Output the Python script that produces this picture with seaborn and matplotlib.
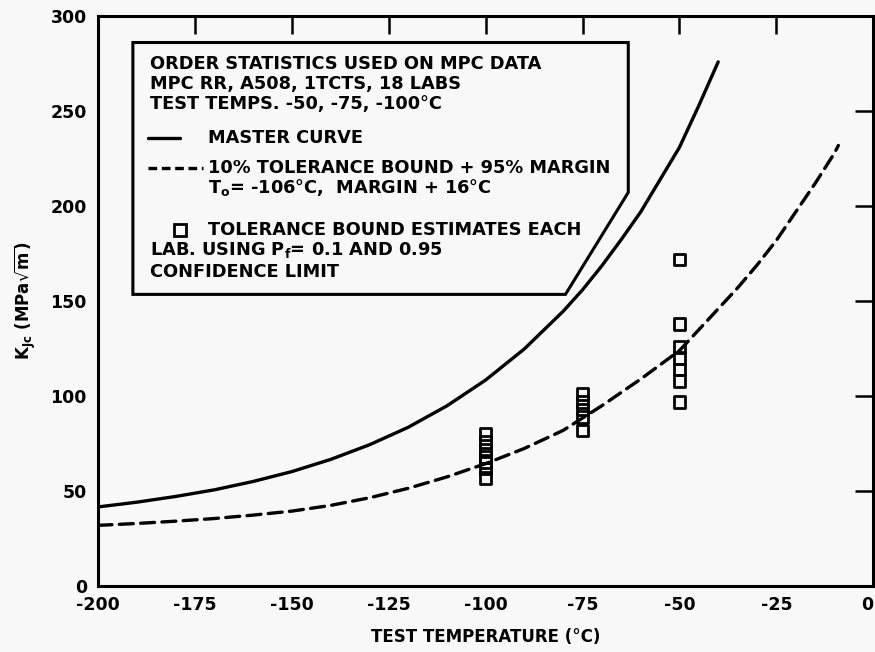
import matplotlib
matplotlib.use("Agg")
import matplotlib.pyplot as plt
import seaborn as sns
import pandas as pd
from matplotlib.patches import Polygon
from matplotlib.lines import Line2D

# ---- data ----
master_T = [-200, -190, -180, -170, -160, -150, -140, -130, -120, -110,
            -100, -90, -80, -75, -70, -65, -60, -55, -50, -45, -40]
master_K = [41.7, 44.2, 47.2, 50.7, 55.1, 60.3, 66.7, 74.4, 83.6, 94.9,
            108.5, 124.9, 144.7, 156.0, 168.7, 182.5, 197.0, 214.0, 231.0, 253.0, 276.0]

bound_T = [-200, -190, -180, -170, -160, -150, -140, -130, -120, -110,
           -100, -90, -80, -70, -60, -50, -45, -40, -35, -30, -25, -20, -15, -10, -9]
bound_K = [32.0, 33.0, 34.2, 35.6, 37.4, 39.5, 42.5, 46.5, 51.5, 57.5,
           64.5, 72.5, 82.0, 95.0, 109.0, 124.0, 135.0, 146.0, 157.0, 169.0,
           182.0, 197.0, 212.0, 228.0, 232.0]

lab_T = [-100] * 7 + [-75] * 5 + [-50] * 7
lab_K = [80, 76, 72, 68, 65, 62, 57,
         101, 97, 93, 89, 82,
         172, 138, 126, 120, 114, 108, 97]

x_ticks = [-200, -175, -150, -125, -100, -75, -50, -25, 0]
y_ticks = [0, 50, 100, 150, 200, 250, 300]

legend_lines = [
    "ORDER STATISTICS USED ON MPC DATA",
    "MPC RR, A508, 1TCTS, 18 LABS",
    "TEST TEMPS. -50, -75, -100\u00b0C",
    "MASTER CURVE",
    "10% TOLERANCE BOUND + 95% MARGIN",
    "T$_\\mathregular{o}$= -106\u00b0C,  MARGIN + 16\u00b0C",
    "TOLERANCE BOUND ESTIMATES EACH",
    "LAB. USING P$_\\mathregular{f}$= 0.1 AND 0.95",
    "CONFIDENCE LIMIT",
]

# ---- styling ----
sns.set_theme(style="white")
BG = "#f8f8f8"
plt.rcParams["font.family"] = ["DejaVu Sans"]
plt.rcParams["axes.unicode_minus"] = False

fig = plt.figure(figsize=(8.75, 6.52), dpi=100, facecolor=BG)
ax = fig.add_axes([0.112, 0.101, 0.886, 0.874])
ax.set_facecolor(BG)

master_df = pd.DataFrame({"T": master_T, "K": master_K})
bound_df = pd.DataFrame({"T": bound_T, "K": bound_K})
lab_df = pd.DataFrame({"T": lab_T, "K": lab_K})

sns.lineplot(data=master_df, x="T", y="K", ax=ax, color="black", lw=2.4,
             solid_capstyle="round", solid_joinstyle="round")
sns.lineplot(data=bound_df, x="T", y="K", ax=ax, color="black", lw=2.4,
             linestyle=(0, (4.2, 2.2)), dash_capstyle="round")
sns.scatterplot(data=lab_df, x="T", y="K", ax=ax, marker="s", s=70,
                facecolors="none", edgecolor="black", linewidth=2.0, zorder=5)

ax.set_xlim(-200, 0)
ax.set_ylim(0, 300)
ax.set_xticks(x_ticks)
ax.set_yticks(y_ticks)
ax.set_xticklabels([str(v) for v in x_ticks])
ax.set_yticklabels([str(v) for v in y_ticks])

for s in ax.spines.values():
    s.set_visible(True)
    s.set_color("black")
    s.set_linewidth(2.2)

ax.tick_params(axis="both", which="major", direction="in", length=13, width=1.8,
               color="black", top=True, right=True, labelsize=12.5,
               labelcolor="black")
ax.tick_params(axis="x", pad=7)
ax.tick_params(axis="y", pad=8)
for lab in ax.get_xticklabels() + ax.get_yticklabels():
    lab.set_fontweight("bold")
ax.get_xticklabels()[-1].set_horizontalalignment("right")

ax.set_xlabel("TEST TEMPERATURE (\u00b0C)", fontsize=12, fontweight="bold",
              labelpad=10, color="black")
ax.set_ylabel(r"K$_{\mathregular{Jc}}$ (MPa$\sqrt{\mathregular{m}}$)",
              fontsize=12, fontweight="bold", labelpad=9, color="black")

# ---- legend box with chamfered corner ----
box = Polygon([(0.045, 0.954), (0.684, 0.954), (0.684, 0.691),
               (0.603, 0.512), (0.045, 0.512)], closed=True,
              transform=ax.transAxes, facecolor=BG, edgecolor="black",
              linewidth=2.2, zorder=6)
ax.add_patch(box)

x0 = 0.0675
x1 = 0.1425
ys = [0.916, 0.881, 0.846, 0.786, 0.733, 0.700, 0.625, 0.590, 0.551]
texts = []
for i, txt in enumerate(legend_lines):
    xx = x1 if i in (3, 4, 5, 6) else x0
    t = ax.text(xx, ys[i], txt, family="DejaVu Sans",
                fontsize=12.5, fontweight="bold", color="black", va="center",
                ha="left", transform=ax.transAxes, zorder=7)
    texts.append(t)

# fit the "10% TOLERANCE ..." line to the width seen in the reference (~404 px)
fig.canvas.draw()
r = fig.canvas.get_renderer()
w = texts[4].get_window_extent(r).width
size = 12.5 * 402.0 / w
for t in texts:
    t.set_fontsize(size)

ax.add_line(Line2D([0.0645, 0.106], [ys[3], ys[3]], transform=ax.transAxes,
                   color="black", lw=2.4, zorder=7))
ax.add_line(Line2D([0.0645, 0.136], [ys[4], ys[4]], transform=ax.transAxes,
                   color="black", lw=2.4, linestyle=(0, (2.6, 1.4)), zorder=7))
ax.add_line(Line2D([0.106], [ys[6]], transform=ax.transAxes, marker="s",
                   markersize=8, markerfacecolor="none", markeredgecolor="black",
                   markeredgewidth=2.0, linestyle="none", zorder=7))

fig.savefig("out.png", dpi=100, facecolor=BG)
